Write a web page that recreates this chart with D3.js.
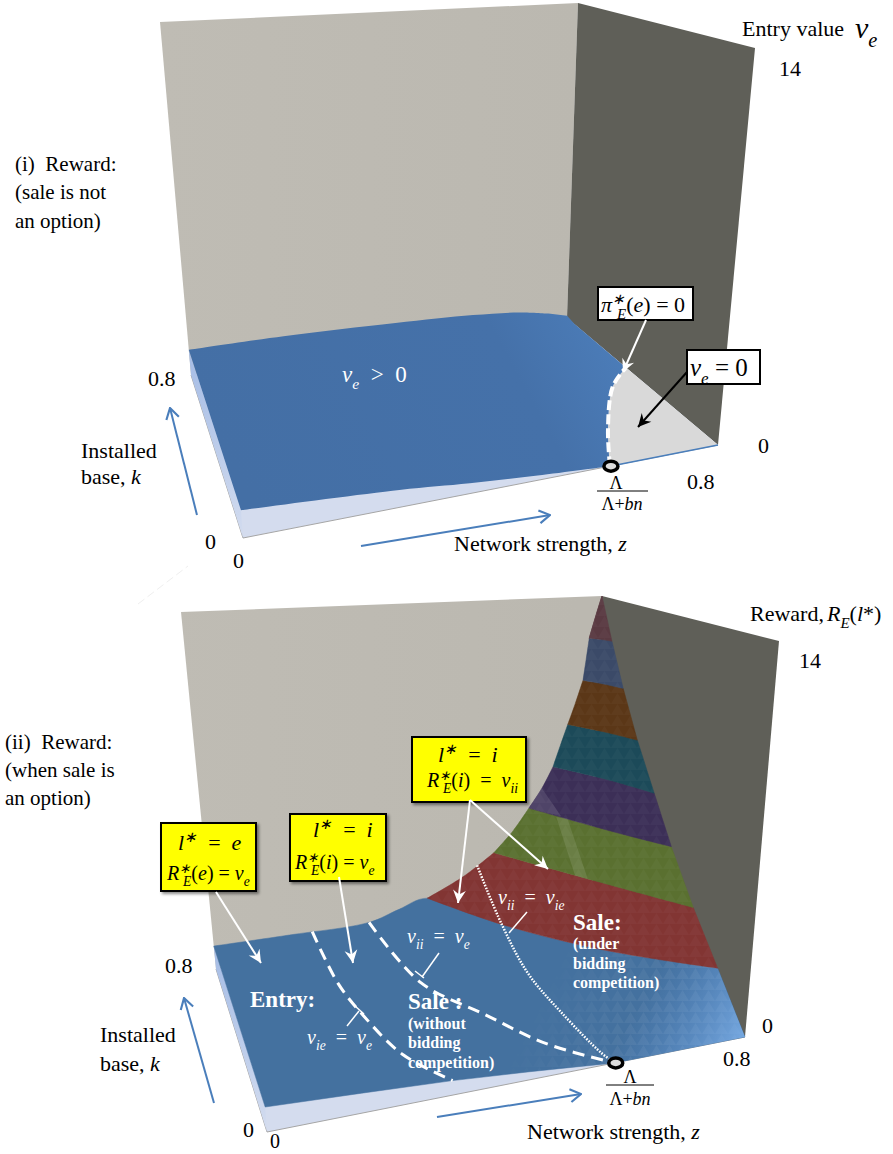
<!DOCTYPE html>
<html>
<head>
<meta charset="utf-8">
<script src="https://cdn.jsdelivr.net/npm/d3@7"></script>
<style>
  body { margin: 0; background: #fff; }
  text { font-family: "Liberation Serif", serif; }
</style>
</head>
<body>
<div id="chart"></div>
<script>
// panel (i): surface
const p1FrontZ = [0, .264, .382, .496, .618];
const p1FrontV = [.95, .6, .36, .17, 0];
const p1ZeroZ = [.618, .668, .744, .8];
const p1ZeroK = [0, .188, .4, .488];
const p1RightK = [.76, .8];
const p1RightV = [.02, .1];
const p1BackZ = [.76, .698, .6, .436, .2, 0];
const p1BackV = [.32, .56, .74, .88, 1.0, 1.0];

// panel (ii): iso-value lines across the surface
const levelV = [1.6, 3.15, 4.9, 6.6, 8.4, 10.3, 12.15];
const levelZ = [
  [.452, .544, .664, .8],
  [.592, .72, .8],
  [.664, .748, .8],
  [.712, .768, .8],
  [.74, .776, .8],
  [.768, .788, .8],
  [.778, .792, .8]
];
const levelK = [
  [.8, .6, .376, .16],
  [.8, .52, .3],
  [.8, .576, .424],
  [.8, .656, .52],
  [.8, .708, .612],
  [.8, .744, .688],
  [.8, .776, .748]
];
const bandColors = ["#44719f", "#823533", "#5a7030", "#3c2f57", "#1c4a59", "#5b3717", "#3b4a68", "#5a3a42"];

// panel (ii): edges of the surface
const p2FrontZ = [0, .16, .311, .44, .582, .8];
const p2FrontV = [.85, .68, .5, .28, 0, 0];
const p2WallZ = [0, .16, .328, .392, .528, .632, .69, .726, .754, .773, .79];
const p2WallV = [.9, .9, .94, 1.3, 2.3, 4.0, 5.7, 7.5, 9.3, 11.2, 13.2];

// panel (ii): boundaries drawn on the surface
const vieZ = [.208, .208, .224, .256, .311];
const vieK = [.8, .536, .376, .16, 0];
const vieV = [.9, .8, .7, .6, .5];
const viiZ = [.328, .352, .424, .496, .582];
const viiK = [.8, .464, .28, .12, 0];
const viiV = [.94, .85, .65, .3, 0];
const vieeZ = [.557, .544, .532, .548, .572, .582];
const vieeK = [.8, .6, .384, .224, .048, 0];
const vieeV = [2.7, 1.6, 1.1, .6, .1, 0];

// panel (ii): lighter creases of the surface
const creaseZ = [[.69, .705, .70, .686], [.664, .69, .70]];
const creaseK = [[.72, .70, .57, .60], [.8, .8, .72]];
const creaseV = [[4.9, 4.9, 3.15, 3.15], [4.9, 5.7, 4.9]];

const zTicks = ["0", "0.8"];
const kTicks = ["0", "0.8"];
const vTick = "14";

const W = 893, H = 1154;
const svg = d3.select("#chart").append("svg").attr("width", W).attr("height", H);
const defs = svg.append("defs");

// escales comunes als dos cubs
const zScale = d3.scaleLinear().domain([0, .8]).range([0, 1]);
const kScale = d3.scaleLinear().domain([0, .8]).range([0, 1]);
const vScale = d3.scaleLinear().domain([0, 14]).range([0, 1]);

function projector(box) {
  return function(z, k, v) {
    const u = zScale(z), w = kScale(k), h = vScale(v);
    const mix = (a, b, c, d, i) => a[i]*(1-u)*(1-w) + b[i]*u*(1-w) + c[i]*(1-u)*w + d[i]*u*w;
    return [0, 1].map(i =>
      mix(box.F, box.R, box.L, box.B, i)*(1-h) + mix(box.Ft, box.Rt, box.Lt, box.Bt, i)*h);
  };
}

const box1 = {F: [243, 538], R: [718, 445], L: [191, 375], B: [567, 318],
              Ft: [213, 128], Rt: [755, 48], Lt: [160, 22], Bt: [578, 3]};
const box2 = {F: [267, 1132], R: [745, 1037], L: [216, 969], B: [592, 911],
              Ft: [237, 721], Rt: [779, 641], Lt: [181, 612], Bt: [602, 596]};
const p1 = projector(box1), p2 = projector(box2);

const line = d3.line();
const smooth = d3.line().curve(d3.curveCatmullRom.alpha(.5));
const poly = pts => line(pts) + "Z";
const join = (...parts) => parts.filter(p => p).map((p, i) => i ? p.replace(/^M/, "L") : p).join("") + "Z";
const pts3 = (proj, zs, ks, vs) => zs.map((z, i) => proj(z, ks[i], vs[i]));

// gradients
function linear(id, x1, y1, x2, y2, stops) {
  const g = defs.append("linearGradient").attr("id", id).attr("gradientUnits", "userSpaceOnUse")
    .attr("x1", x1).attr("y1", y1).attr("x2", x2).attr("y2", y2);
  stops.forEach(s => g.append("stop").attr("offset", s[0]).attr("stop-color", s[1]).attr("stop-opacity", s[2] === undefined ? 1 : s[2]));
}
linear("blue1", 250, 500, 620, 300, [[0, "#446fa5"], [.7, "#4571a9"], [1, "#4d7fbc"]]);
linear("side", 190, 370, 245, 540, [[0, "#a9bfe6"], [1, "#d3dcef"]]);
linear("side2", 215, 965, 268, 1132, [[0, "#a9bfe6"], [1, "#d3dcef"]]);
linear("corner", 745, 1037, 650, 985, [[0, "#7fb2ec", .85], [1, "#5a8fd0", 0]]);
linear("wallL", 160, 300, 578, 300, [[0, "#bfbcb4"], [1, "#bbb8b0"]]);
linear("fadeFacet", 720, 1030, 560, 950, [[0, "#fff"], [.7, "#666"], [1, "#000"]]);

const facet = defs.append("pattern").attr("id", "facet").attr("patternUnits", "userSpaceOnUse")
  .attr("width", 13).attr("height", 11);
facet.append("path").attr("d", "M0 11L6.5 0L13 11Z").attr("fill", "#fff").attr("opacity", .09);

defs.append("mask").attr("id", "facetMask").append("rect")
  .attr("width", W).attr("height", H).attr("fill", "url(#fadeFacet)");

const shadow = defs.append("filter").attr("id", "shadow").attr("x", "-10%").attr("y", "-10%").attr("width", "125%").attr("height", "125%");
shadow.append("feDropShadow").attr("dx", 2).attr("dy", 2).attr("stdDeviation", 1.5).attr("flood-color", "#000").attr("flood-opacity", .45);

["white", "black"].forEach(c => {
  const m = defs.append("marker").attr("id", "head-" + c).attr("viewBox", "0 0 14 14").attr("refX", 13).attr("refY", 7)
    .attr("markerWidth", 15).attr("markerHeight", 15).attr("markerUnits", "userSpaceOnUse").attr("orient", "auto");
  m.append("path").attr("d", "M1 1L13 7L1 13L5 7Z").attr("fill", c);
});
const openHead = defs.append("marker").attr("id", "head-blue").attr("viewBox", "0 0 14 14").attr("refX", 13).attr("refY", 7)
  .attr("markerWidth", 15).attr("markerHeight", 15).attr("markerUnits", "userSpaceOnUse").attr("orient", "auto");
openHead.append("path").attr("d", "M3 1L13 7L3 13").attr("fill", "none").attr("stroke", "#4a7ebb").attr("stroke-width", 2);

// parets i terra
function drawBox(box) {
  const g = svg.append("g");
  g.append("path").attr("d", poly([box.L, box.Lt, box.Bt, box.B])).attr("fill", "url(#wallL)");
  g.append("path").attr("d", poly([box.B, box.Bt, box.Rt, box.R])).attr("fill", "#5f5f58");
  g.append("path").attr("d", poly([box.F, box.R, box.B, box.L])).attr("fill", "#d4dcee");
  g.append("path").attr("d", line([box.L, box.F, box.R])).attr("fill", "none").attr("stroke", "#a5a5a5").attr("stroke-width", 1);
  return g;
}

// panell (i)
const g1 = drawBox(box1);
g1.append("path").attr("d", smooth(p1ZeroZ.map((z, i) => p1(z, p1ZeroK[i], 0))) + "L" + box1.R.join(",") + "Z").attr("fill", "#d9d9d9");
g1.append("path").attr("d", poly([box1.L, p1(0, .8, 1), p1(0, 0, .95), box1.F])).attr("fill", "url(#side)");
const p1Path = join(
  smooth(pts3(p1, p1FrontZ, p1FrontZ.map(() => 0), p1FrontV)),
  smooth(p1ZeroZ.map((z, i) => p1(z, p1ZeroK[i], 0))),
  line(p1RightK.map((k, i) => p1(.8, k, p1RightV[i]))),
  smooth(p1BackZ.map((z, i) => p1(z, .8, p1BackV[i])))
);
g1.append("path").attr("d", p1Path).attr("fill", "url(#blue1)");
g1.append("path").attr("d", line([p1(p1ZeroZ[0], 0, 0), box1.R])).attr("stroke", "#4a7ebb").attr("stroke-width", 1.5);
g1.append("path").attr("d", smooth(p1ZeroZ.map((z, i) => p1(z, p1ZeroK[i], 0))))
  .attr("fill", "none").attr("stroke", "#fff").attr("stroke-width", 4).attr("stroke-dasharray", "10 4");

// panell (ii)
const g2 = drawBox(box2);
g2.append("path").attr("d", poly([box2.L, p2(0, .8, .9), p2(0, 0, .85), box2.F])).attr("fill", "url(#side2)");

const levelPts = levelV.map((v, i) => levelZ[i].map((z, j) => p2(z, levelK[i][j], v)));
const wallBetween = (lo, hi) => p2WallZ.map((z, i) => [z, p2WallV[i]])
  .filter(d => d[1] > lo && d[1] < hi).reverse().map(d => p2(d[0], .8, d[1]));

// banda de baix (blava)
const bandPaths = [join(
  line(p2FrontZ.map((z, i) => p2(z, 0, p2FrontV[i]))),
  smooth([...levelPts[0]].reverse().concat(wallBetween(-1, levelV[0])))
)];
levelV.forEach((v, i) => {
  const last = i + 1 === levelV.length;
  const upper = last ? [p2(.8, .8, 14)] : [...levelPts[i + 1]].reverse();
  const hi = last ? 14 : levelV[i + 1];
  // la vora de la paret, suau, fins al punt de sortida
  const wall = [upper[upper.length - 1], ...wallBetween(v, hi), levelPts[i][0]];
  bandPaths.push(join(smooth(levelPts[i]), upper.length > 1 ? smooth(upper) : line(upper), smooth(wall)));
});
g2.selectAll(".band").data(bandPaths).enter().append("path")
  .attr("class", "band")
  .attr("d", d => d)
  .attr("fill", (d, i) => bandColors[i])
  .attr("stroke", (d, i) => bandColors[i])
  .attr("stroke-width", .5);
g2.selectAll(".facet").data(bandPaths).enter().append("path")
  .attr("class", "facet").attr("d", d => d).attr("fill", "url(#facet)")
  .attr("mask", (d, i) => i === 0 ? "url(#facetMask)" : null)
  .attr("opacity", (d, i) => i === 0 ? 1 : .3);
g2.append("path").attr("d", bandPaths[0]).attr("fill", "url(#corner)");
g2.selectAll(".crease").data(creaseZ).enter().append("path")
  .attr("class", "crease")
  .attr("d", (d, i) => poly(pts3(p2, d, creaseK[i], creaseV[i])))
  .attr("fill", "#fff").attr("opacity", .1);

function onSurface(zs, ks, vs) { return smooth(zs.map((z, i) => p2(z, ks[i], vs[i]))); }
g2.append("path").attr("d", onSurface(vieZ, vieK, vieV)).attr("fill", "none").attr("stroke", "#fff").attr("stroke-width", 3).attr("stroke-dasharray", "12 7");
g2.append("path").attr("d", onSurface(viiZ, viiK, viiV)).attr("fill", "none").attr("stroke", "#fff").attr("stroke-width", 3).attr("stroke-dasharray", "12 7");
g2.append("path").attr("d", onSurface(vieeZ, vieeK, vieeV)).attr("fill", "none").attr("stroke", "#fff").attr("stroke-width", 2.5).attr("stroke-dasharray", "1.6 1.4");

// anelles a Lambda
[[p1, p1ZeroZ[0]], [p2, p2FrontZ[4]]].forEach(d => {
  const c = d[0](d[1], 0, 0);
  svg.append("ellipse").attr("cx", c[0] + 1).attr("cy", c[1]).attr("rx", 7).attr("ry", 5)
    .attr("fill", "#ddd").attr("stroke", "#000").attr("stroke-width", 3.5);
});

// fletxes blaves
[[197, 515, 170, 408], [361, 546, 550, 515], [214, 1103, 184, 998], [437, 1117, 581, 1094]].forEach(a => {
  svg.append("line").attr("x1", a[0]).attr("y1", a[1]).attr("x2", a[2]).attr("y2", a[3])
    .attr("stroke", "#4a7ebb").attr("stroke-width", 2).attr("marker-end", "url(#head-blue)");
});

svg.append("line").attr("x1", 138).attr("y1", 604).attr("x2", 188).attr("y2", 566)
  .attr("stroke", "#efefef").attr("stroke-dasharray", "8 4");

// text
function label(x, y, txt, size, o) {
  o = o || {};
  return svg.append("text").attr("x", x).attr("y", y).attr("font-size", size)
    .attr("fill", o.fill || "#000").attr("font-weight", o.bold ? "bold" : null)
    .attr("font-style", o.italic ? "italic" : null).attr("text-anchor", o.anchor || "start")
    .attr("xml:space", "preserve").text(txt);
}
// parts: [text, "i" | "r" | "sub" | "sup" | "stack"]
function math(x, y, parts, size, fill) {
  const t = svg.append("text").attr("x", x).attr("y", y).attr("font-size", size).attr("fill", fill || "#000")
    .attr("xml:space", "preserve");
  let prev = 0;
  parts.forEach(p => {
    const kind = p[1] || "i";
    const shift = kind === "sub" || kind === "stack" ? size*.3 : kind === "sup" ? -size*.35 : 0;
    const small = kind === "sub" || kind === "sup" || kind === "stack";
    t.append("tspan").attr("dy", shift - prev)
      .attr("dx", kind === "stack" ? -size*.36 : null)
      .attr("font-size", small ? size*.68 : size)
      .attr("font-style", kind === "r" ? null : "italic")
      .text(p[0]);
    prev = shift;
  });
  return t;
}

const TS = 22, SL = 21;
label(742, 36, "Entry value", TS);
math(855, 38, [["v"], ["e", "sub"]], 30);
label(779, 76, vTick, TS);
label(15, 171, "(i)  Reward:", SL);
label(15, 199, "(sale is not", SL);
label(15, 228, "an option)", SL);
label(148, 386, kTicks[1], TS);
label(81, 458, "Installed", TS);
svg.append("text").attr("x", 81).attr("y", 484).attr("font-size", TS).html('base, <tspan font-style="italic">k</tspan>');
label(205, 549, kTicks[0], TS);
label(233, 568, zTicks[0], TS);
label(758, 453, kTicks[0], TS);
label(687, 489, zTicks[1], TS);
label(616, 489, "Λ", 18, {anchor: "middle"});
svg.append("line").attr("x1", 597).attr("x2", 648).attr("y1", 491).attr("y2", 491).attr("stroke", "#000");
svg.append("text").attr("x", 622).attr("y", 510).attr("font-size", 18).attr("text-anchor", "middle").html('Λ+<tspan font-style="italic">bn</tspan>');
svg.append("text").attr("x", 454).attr("y", 551).attr("font-size", TS).html('Network strength, <tspan font-style="italic">z</tspan>');
math(342, 382, [["v"], ["e", "sub"], ["  >  0", "r"]], 23, "#fff");

label(750, 621, "Reward,", TS);
math(827, 621, [["R"], ["E", "sub"], ["(", "r"], ["l"], ["*", "r"], [")", "r"]], 22);
label(799, 668, vTick, TS);
label(5, 749, "(ii)  Reward:", SL);
label(5, 777, "(when sale is", SL);
label(5, 805, "an option)", SL);
label(165, 973, kTicks[1], TS);
label(100, 1042, "Installed", TS);
svg.append("text").attr("x", 100).attr("y", 1071).attr("font-size", TS).html('base, <tspan font-style="italic">k</tspan>');
label(243, 1137, kTicks[0], TS);
label(270, 1148, zTicks[0], 20);
label(762, 1033, kTicks[0], TS);
label(723, 1066, zTicks[1], TS);
label(630, 1083, "Λ", 18, {anchor: "middle"});
svg.append("line").attr("x1", 606).attr("x2", 654).attr("y1", 1085).attr("y2", 1085).attr("stroke", "#000");
svg.append("text").attr("x", 630).attr("y", 1105).attr("font-size", 18).attr("text-anchor", "middle").html('Λ+<tspan font-style="italic">bn</tspan>');
svg.append("text").attr("x", 527).attr("y", 1139).attr("font-size", TS).html('Network strength, <tspan font-style="italic">z</tspan>');

// etiquetes blanques
label(250, 1007, "Entry:", 23, {fill: "#fff", bold: true});
label(408, 1009, "Sale :", 23, {fill: "#fff", bold: true});
["(without", "bidding", "competition)"].forEach((s, i) => label(408, [1029, 1048, 1068][i], s, 16, {fill: "#fff", bold: true}));
label(573, 930, "Sale:", 23, {fill: "#fff", bold: true});
["(under", "bidding", "competition)"].forEach((s, i) => label(573, [949, 969, 988][i], s, 16, {fill: "#fff", bold: true}));
math(307, 1044, [["v"], ["ie", "sub"], ["  =  ", "r"], ["v"], ["e", "sub"]], 20, "#fff");
math(407, 943, [["v"], ["ii", "sub"], ["  =  ", "r"], ["v"], ["e", "sub"]], 20, "#fff");
math(498, 904, [["v"], ["ii", "sub"], ["  =  ", "r"], ["v"], ["ie", "sub"]], 20, "#fff");
[[347, 1026, 359, 1011], [355, 1006, 364, 1014], [439, 953, 422, 977], [415, 971, 424, 978], [527, 912, 509, 933]].forEach(a => {
  svg.append("line").attr("x1", a[0]).attr("y1", a[1]).attr("x2", a[2]).attr("y2", a[3]).attr("stroke", "#fff").attr("stroke-width", 1.5);
});

// caixes
function callout(x, y, w, h, fill) {
  svg.append("rect").attr("x", x).attr("y", y).attr("width", w).attr("height", h)
    .attr("fill", fill).attr("stroke", "#000").attr("stroke-width", 2)
    .attr("filter", fill === "#ffff00" ? "url(#shadow)" : null);
}
function arrow(a, b, c, d, color) {
  svg.append("line").attr("x1", a).attr("y1", b).attr("x2", c).attr("y2", d)
    .attr("stroke", color).attr("stroke-width", 2).attr("marker-end", "url(#head-" + color + ")");
}
callout(598, 287, 95, 33, "#fff");
math(601, 312, [["π"], ["∗", "sup"], ["E", "stack"], ["(", "r"], ["e"], [")", "r"], [" = 0", "r"]], 22);
callout(687, 350, 73, 34, "#fff");
math(690, 376, [["v"], ["e", "sub"], [" = 0", "r"]], 25);
arrow(646, 320, 623, 372, "white");
arrow(687, 372, 638, 427, "black");

callout(161, 823, 95, 68, "#ffff00");
math(178, 850, [["l"], ["∗", "sup"], ["  =  ", "r"], ["e"]], 22);
math(167, 880, [["R"], ["∗", "sup"], ["E", "stack"], ["(", "r"], ["e"], [")", "r"], [" = ", "r"], ["v"], ["e", "sub"]], 20);
callout(290, 814, 96, 67, "#ffff00");
math(313, 837, [["l"], ["∗", "sup"], ["  =  ", "r"], ["i"]], 22);
math(295, 869, [["R"], ["∗", "sup"], ["E", "stack"], ["(", "r"], ["i"], [")", "r"], [" = ", "r"], ["v"], ["e", "sub"]], 20);
callout(412, 737, 114, 65, "#ffff00");
math(438, 762, [["l"], ["∗", "sup"], ["  =  ", "r"], ["i"]], 22);
math(427, 787, [["R"], ["∗", "sup"], ["E", "stack"], ["(", "r"], ["i"], [")", "r"], ["  =  ", "r"], ["v"], ["ii", "sub"]], 20);
arrow(216, 892, 261, 963, "white");
arrow(339, 877, 353, 963, "white");
arrow(470, 800, 458, 903, "white");
arrow(470, 800, 548, 869, "white");
</script>
</body>
</html>
